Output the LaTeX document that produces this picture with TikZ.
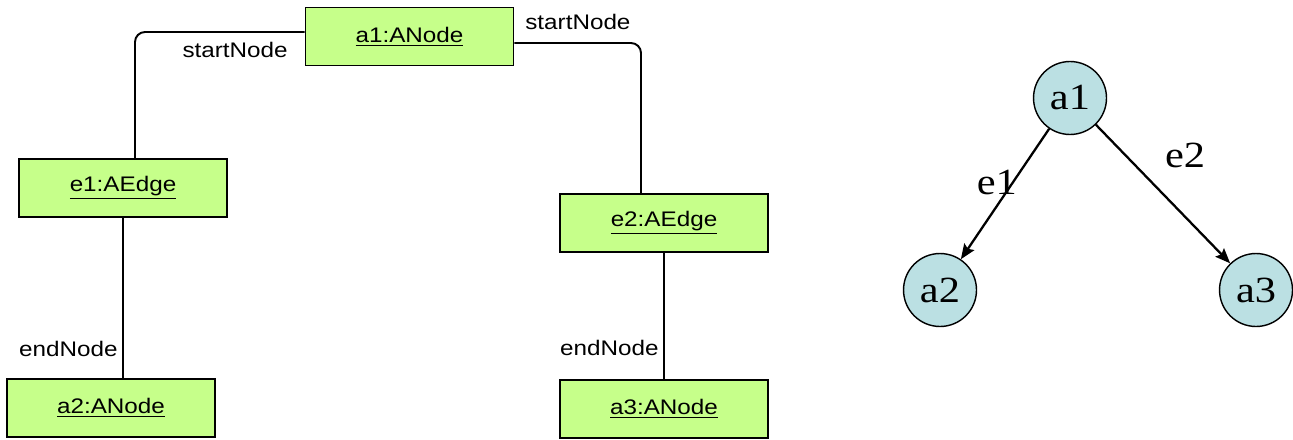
\documentclass[tikz,border=0pt]{standalone}
\usepackage{fontspec}
\setmainfont{Liberation Sans}[FakeStretch=1.15]
\newfontfamily\graphfont{Liberation Serif}[FakeStretch=1.15]
\usetikzlibrary{arrows.meta}
\definecolor{objgreen}{RGB}{198,255,138}
\definecolor{vertexblue}{RGB}{187,224,227}
\tikzset{
	obj/.style={draw,line width=1.1pt,fill=objgreen,minimum width=4.16cm,minimum height=1.16cm,inner sep=0pt,font=\fontsize{12}{14}\selectfont},
	role/.style={inner sep=0pt,font=\fontsize{12}{14}\selectfont},
	link/.style={line width=1.1pt,rounded corners=2mm},
	vertex/.style={circle,draw,line width=0.8pt,fill=vertexblue,minimum size=1.46cm,inner sep=0pt,font=\graphfont\fontsize{21}{24}\selectfont},
	arc/.style={line width=1.3pt,-{Stealth[length=0.3cm,width=0.24cm,inset=0.05cm]}},
	arclabel/.style={inner sep=0pt,font=\graphfont\fontsize{21}{24}\selectfont}
}
\begin{document}
\begin{tikzpicture}[x=0.02cm,y=-0.02cm]
		\useasboundingbox (0,0) rectangle (1293,439);
		% objects
		\node[obj] (a1obj) at (409.5,36.5) {\underline{a1:ANode}};
		\node[obj] (e1obj) at (123,188) {\underline{e1:AEdge}};
		\node[obj] (a2obj) at (111,408) {\underline{a2:ANode}};
		\node[obj] (e2obj) at (664,223) {\underline{e2:AEdge}};
		\node[obj] (a3obj) at (664,409) {\underline{a3:ANode}};
		% links
		\draw[link] ([yshift=0.09cm]a1obj.west) -| ([xshift=0.24cm]e1obj.north);
		\draw[link] ([yshift=-0.13cm]a1obj.east) -| ([xshift=-0.46cm]e2obj.north);
		\draw[link] (e1obj.south) -- (e1obj.south |- a2obj.north);
		\draw[link] (e2obj.south) -- (a3obj.north);
		\node[role,anchor=east] (start1) at (288,50) {startNode};
		\node[role,anchor=west] (start2) at (525,22) {startNode};
		\node[role,anchor=east] (end1) at (118,349) {endNode};
		\node[role,anchor=east] (end2) at (659,348) {endNode};
		% graph
		\node[vertex] (a1) at (1070,98) {a1};
		\node[vertex] (a2) at (940,290) {a2};
		\node[vertex] (a3) at (1256,290) {a3};
		\draw[arc] (a1) -- node[arclabel,pos=0.4,xshift=-0.34cm,yshift=-0.04cm] {e1} (a2);
		\draw[arc] (a1) -- node[arclabel,pos=0.3,xshift=0.98cm,yshift=0.22cm] {e2} (a3);
	    \end{tikzpicture}
\end{document}
